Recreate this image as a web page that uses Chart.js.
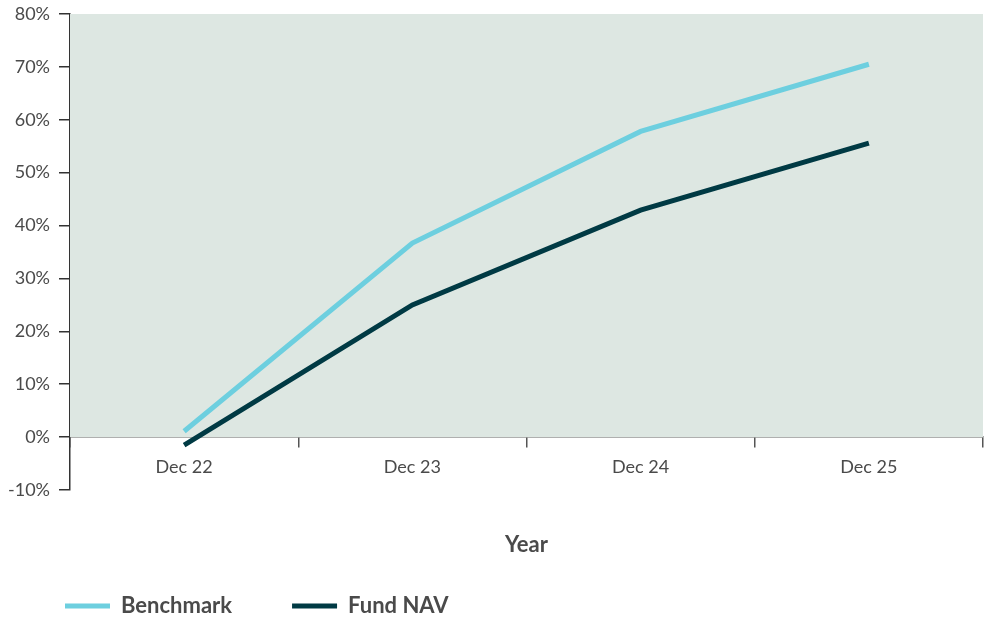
<!DOCTYPE html>
<html>
<head>
<meta charset="utf-8">
<script src="https://cdn.jsdelivr.net/npm/chart.js@4"></script>
<style>
  html, body { margin: 0; padding: 0; background: #fff; }
  #wrap { width: 989px; height: 618px; }
</style>
</head>
<body>
<div id="wrap"><canvas id="myCanvas"></canvas></div>
<script>
// data (% cumulative return)
var years = ["Dec 22", "Dec 23", "Dec 24", "Dec 25"];
var benchmark = [1.1, 36.7, 57.8, 70.5];
var fundNav = [-1.5, 25.0, 42.9, 55.6];
var yMin = -10, yMax = 80, yStep = 10;
var shadeFrom = 0, shadeTo = 80;

var textCol = "#4a4a4a";
var axisCol = "#333333";

// light green panel behind the lines, from 0% up to the top
var shade = {
  id: "shade",
  beforeDatasetsDraw: function (chart) {
    var ctx = chart.ctx, area = chart.chartArea, y = chart.scales.y;
    var top = y.getPixelForValue(shadeTo), bot = y.getPixelForValue(shadeFrom);
    ctx.save();
    ctx.fillStyle = "#dde7e2";
    ctx.fillRect(area.left, top, area.right - area.left, bot - top);
    ctx.restore();
  }
};

Chart.defaults.font.family = "Lato, 'Open Sans', sans-serif";
Chart.defaults.color = textCol;

var myChart = new Chart(document.getElementById("myCanvas").getContext("2d"), {
  type: "line",
  data: {
    labels: years,
    datasets: [{
      label: "Benchmark",
      data: benchmark,
      borderColor: "#6dcfdf",
      backgroundColor: "#6dcfdf",
      borderWidth: 5,
      pointRadius: 0,
      tension: 0
    }, {
      label: "Fund NAV",
      data: fundNav,
      borderColor: "#003a44",
      backgroundColor: "#003a44",
      borderWidth: 5,
      pointRadius: 0,
      tension: 0
    }]
  },
  options: {
    responsive: true,
    maintainAspectRatio: false,
    animation: false,
    layout: { padding: { left: 5, right: 6, top: 14, bottom: 3 } },
    scales: {
      x: {
        position: { y: 0 },
        offset: true,
        grid: { display: true, offset: true, drawOnChartArea: false, drawTicks: true, tickLength: 10, color: "#555", lineWidth: 1.5 },
        border: { display: true, color: "#555", width: 1.5 },
        ticks: { padding: 9, font: { size: 18 }, color: textCol }
      },
      y: {
        min: yMin,
        max: yMax,
        afterFit: function (s) {
          s.width = 65;
          s.paddingTop = 0;   // top of the axis sits right at the layout padding
        },
        grid: { display: true, drawOnChartArea: false, drawTicks: true, tickLength: 11, color: axisCol, lineWidth: 1.5 },
        border: { display: true, color: axisCol, width: 1.5 },
        ticks: {
          stepSize: yStep,
          padding: 9,
          font: { size: 18 },
          color: textCol,
          callback: function (v) { return v + "%"; }
        }
      }
    },
    plugins: {
      title: {
        display: true,
        text: "Year",
        position: "bottom",
        fullSize: false,
        weight: 500,
        color: textCol,
        font: { size: 22, weight: "bold" },
        // legend padding is big (item gap), so let the legend box overlap the title box
        padding: { top: 42, bottom: -23.4 }
      },
      legend: {
        position: "bottom",
        align: "start",
        maxHeight: 80,
        labels: {
          boxWidth: 45,
          boxHeight: 5,
          padding: 60,
          color: textCol,
          font: { size: 22, weight: "bold" },
          generateLabels: function (chart) {
            return chart.data.datasets.map(function (ds, i) {
              return { text: ds.label, fillStyle: ds.borderColor, strokeStyle: ds.borderColor, lineWidth: 0, hidden: false, datasetIndex: i, fontColor: textCol };
            });
          }
        }
      },
      tooltip: { enabled: false }
    }
  },
  plugins: [shade]
});
</script>
</body>
</html>
